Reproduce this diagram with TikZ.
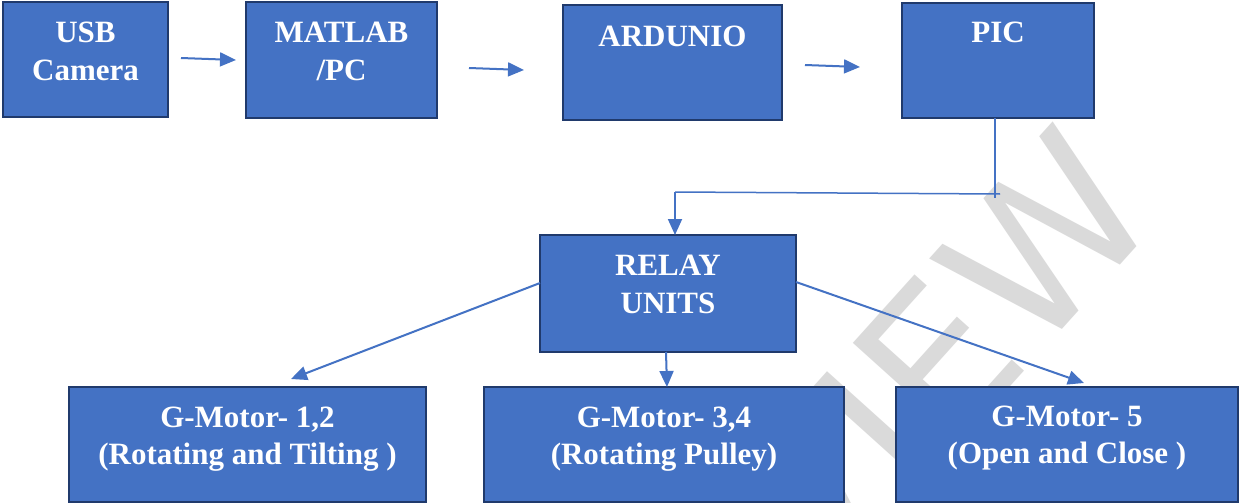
\documentclass[tikz,border=0pt]{standalone}
\usepackage{fontspec}
\setmainfont{Liberation Serif}
\newfontfamily\wmfont{DejaVu Sans}
\usetikzlibrary{arrows.meta,calc}
\definecolor{boxfill}{HTML}{4472C4}
\definecolor{boxline}{HTML}{203A6C}
\definecolor{wmgray}{HTML}{DADADA}
\begin{document}
\begin{tikzpicture}[x=1pt,y=-1pt,
  box/.style={draw=boxline, line width=2.8pt, fill=boxfill, anchor=north west,
    inner sep=0pt, outer sep=0pt},
  lbl/.style={text=white, font=\bfseries\fontsize{31}{38}\selectfont, align=center,
    inner sep=0pt, anchor=north},
  conn/.style={draw=boxfill, line width=2pt, -{Triangle[length=16pt,width=14pt]}},
  elbow/.style={draw=boxfill, line width=1.5pt},
  wmark/.style={text=wmgray, font=\wmfont\fontsize{200}{200}\selectfont, inner sep=0pt},
]
\useasboundingbox (0,0) rectangle (1240,503);
\fill[white] (0,0) rectangle (1240,503);
\begin{scope}
  \clip (0,0) rectangle (1240,503);
  \node[wmark, rotate=48, anchor=base west] (wm) at (640,798) {REVIEW};
\end{scope}

% boxes
\node[box, minimum width=165pt, minimum height=115pt] (usb) at (3,2) {};
\node[box, minimum width=191pt, minimum height=116pt] (matlab) at (246,2) {};
\node[box, minimum width=219pt, minimum height=115pt] (ard) at (563,5) {};
\node[box, minimum width=192pt, minimum height=115pt] (pic) at (902,3) {};
\node[box, minimum width=256pt, minimum height=117pt] (relay) at (540,235) {};
\node[box, minimum width=357pt, minimum height=115pt] (g1) at (69,387) {};
\node[box, minimum width=360pt, minimum height=115pt] (g2) at (484,387) {};
\node[box, minimum width=342pt, minimum height=115pt] (g3) at (896,387) {};

% labels
\node[lbl] (usbt) at ($(usb.north)+(0,20)$) {USB\\Camera};
\node[lbl] (matlabt) at ($(matlab.north)+(0,20)$) {MATLAB\\/PC};
\node[lbl] (ardt) at ($(ard.north)+(0,21)$) {ARDUNIO};
\node[lbl] (pict) at ($(pic.north)+(0,19)$) {PIC};
\node[lbl] (relayt) at ($(relay.north)+(0,20)$) {RELAY\\UNITS};
\node[lbl, font=\bfseries\fontsize{31}{37}\selectfont] (g1t) at ($(g1.north)+(0,20)$) {G-Motor- 1,2\\(Rotating and Tilting )};
\node[lbl, font=\bfseries\fontsize{31}{37}\selectfont] (g2t) at ($(g2.north)+(0,20)$) {G-Motor- 3,4\\(Rotating Pulley)};
\node[lbl, font=\bfseries\fontsize{31}{37}\selectfont] (g3t) at ($(g3.north)+(0,19)$) {G-Motor- 5\\(Open and Close )};

% top row connectors
\draw[conn] ($(usb.east)+(13,-1.5)$) -- ($(matlab.west)+(-10,0)$);
\draw[conn] ($(matlab.east)+(32,8)$) -- ($(ard.west)+(-39,7.5)$);
\draw[conn] ($(ard.east)+(23,2.5)$) -- ($(pic.west)+(-42,6.5)$);

% PIC to relay
\draw[elbow] ($(pic.south)+(-3,0)$) -- ($(pic.south)+(-3,80)$);
\draw[elbow] ($(pic.south)+(2,76)$) -- ($(relay.north)+(7,-43)$);
\draw[conn, line width=1.8pt] ($(relay.north)+(7,-43)$) -- ($(relay.north)+(7,0)$);

% relay to motors
\draw[conn] ($(relay.west)+(0,-10.5)$) -- ($(g1.north)+(43.5,-8)$);
\draw[conn] ($(relay.south)+(-2,0)$) -- ($(g2.north)+(3,0)$);
\draw[conn] ($(relay.east)+(0,-11.5)$) -- ($(g3.north)+(17,-4)$);
\end{tikzpicture}
\end{document}
